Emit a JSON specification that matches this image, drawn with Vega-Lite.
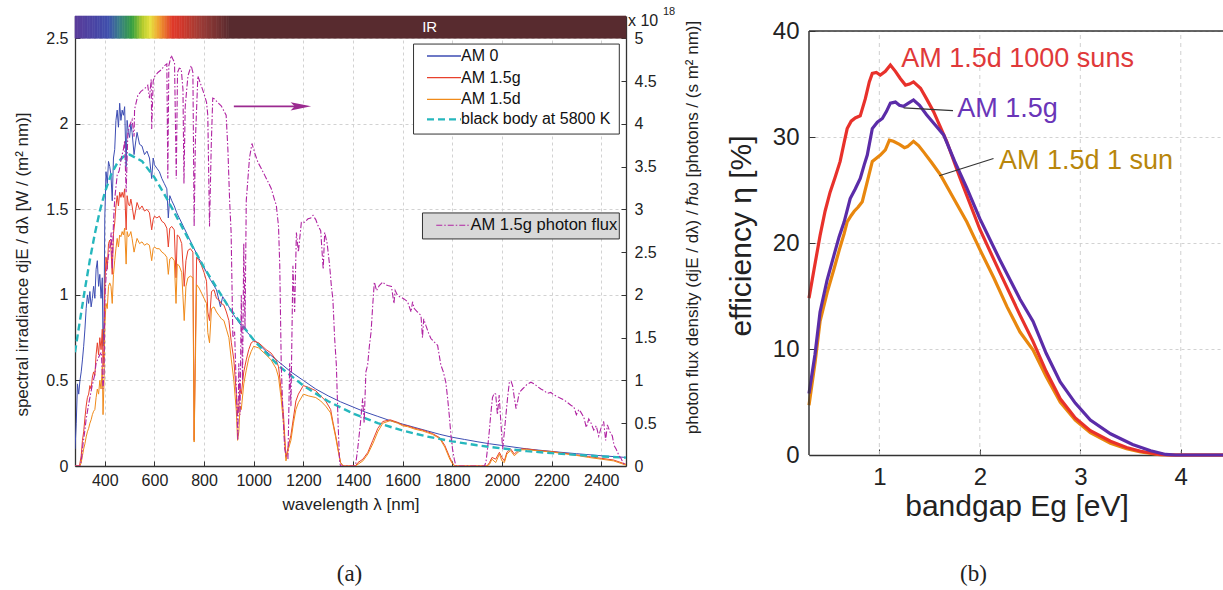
{
"$schema":"https://vega.github.io/schema/vega-lite/v6.json",
"background":"white",
"padding":{"left":13,"top":5,"right":0,"bottom":0},
"spacing":25,
"config":{"font":"Liberation Sans","view":{"stroke":null},
"axis":{"labelFont":"Liberation Sans","titleFont":"Liberation Sans","labelColor":"#222","titleColor":"#222","titleFontWeight":"normal","domainColor":"#333","domainWidth":1.3,"gridColor":"#d2d2d2","gridDash":[3,3],"ticks":true,"tickColor":"#333","tickWidth":1},
"legend":{"labelFont":"Liberation Sans"}},
"datasets":{
"one":[{}],
"strip":[{"wl":280,"wl2":290},{"wl":290,"wl2":300},{"wl":300,"wl2":310},{"wl":310,"wl2":320},{"wl":320,"wl2":330},{"wl":330,"wl2":340},{"wl":340,"wl2":350},{"wl":350,"wl2":360},{"wl":360,"wl2":370},{"wl":370,"wl2":380},{"wl":380,"wl2":390},{"wl":390,"wl2":400},{"wl":400,"wl2":410},{"wl":410,"wl2":420},{"wl":420,"wl2":430},{"wl":430,"wl2":440},{"wl":440,"wl2":450},{"wl":450,"wl2":460},{"wl":460,"wl2":470},{"wl":470,"wl2":480},{"wl":480,"wl2":490},{"wl":490,"wl2":500},{"wl":500,"wl2":510},{"wl":510,"wl2":520},{"wl":520,"wl2":530},{"wl":530,"wl2":540},{"wl":540,"wl2":550},{"wl":550,"wl2":560},{"wl":560,"wl2":570},{"wl":570,"wl2":580},{"wl":580,"wl2":590},{"wl":590,"wl2":600},{"wl":600,"wl2":610},{"wl":610,"wl2":620},{"wl":620,"wl2":630},{"wl":630,"wl2":640},{"wl":640,"wl2":650},{"wl":650,"wl2":660},{"wl":660,"wl2":670},{"wl":670,"wl2":680},{"wl":680,"wl2":690},{"wl":690,"wl2":700},{"wl":700,"wl2":710},{"wl":710,"wl2":720},{"wl":720,"wl2":730},{"wl":730,"wl2":740},{"wl":740,"wl2":750},{"wl":750,"wl2":760},{"wl":760,"wl2":770},{"wl":770,"wl2":780},{"wl":780,"wl2":790},{"wl":790,"wl2":800},{"wl":800,"wl2":810},{"wl":810,"wl2":820},{"wl":820,"wl2":830},{"wl":830,"wl2":840},{"wl":840,"wl2":850},{"wl":850,"wl2":860},{"wl":860,"wl2":870},{"wl":870,"wl2":880},{"wl":880,"wl2":890},{"wl":890,"wl2":900},{"wl":900,"wl2":2500}],
"spec":[
{"s":"AM 0","wl":280,"v":0.1},{"s":"AM 0","wl":285,"v":0.25},{"s":"AM 0","wl":290,"v":0.48},{"s":"AM 0","wl":295,"v":0.42},{"s":"AM 0","wl":300,"v":0.5},{"s":"AM 0","wl":305,"v":0.55},{"s":"AM 0","wl":310,"v":0.62},{"s":"AM 0","wl":315,"v":0.7},{"s":"AM 0","wl":320,"v":0.8},{"s":"AM 0","wl":325,"v":0.92},{"s":"AM 0","wl":330,"v":1.0},{"s":"AM 0","wl":335,"v":0.95},{"s":"AM 0","wl":340,"v":1.02},{"s":"AM 0","wl":345,"v":0.93},{"s":"AM 0","wl":350,"v":0.98},{"s":"AM 0","wl":355,"v":1.05},{"s":"AM 0","wl":360,"v":0.98},{"s":"AM 0","wl":365,"v":1.15},{"s":"AM 0","wl":370,"v":1.2},{"s":"AM 0","wl":375,"v":1.05},{"s":"AM 0","wl":380,"v":1.12},{"s":"AM 0","wl":385,"v":0.98},{"s":"AM 0","wl":390,"v":1.1},{"s":"AM 0","wl":393,"v":0.7},{"s":"AM 0","wl":397,"v":0.85},{"s":"AM 0","wl":400,"v":1.45},{"s":"AM 0","wl":405,"v":1.72},{"s":"AM 0","wl":410,"v":1.65},{"s":"AM 0","wl":415,"v":1.78},{"s":"AM 0","wl":420,"v":1.75},{"s":"AM 0","wl":425,"v":1.7},{"s":"AM 0","wl":430,"v":1.55},{"s":"AM 0","wl":435,"v":1.8},{"s":"AM 0","wl":440,"v":1.85},{"s":"AM 0","wl":445,"v":2.02},{"s":"AM 0","wl":450,"v":2.08},{"s":"AM 0","wl":455,"v":1.98},{"s":"AM 0","wl":460,"v":2.12},{"s":"AM 0","wl":465,"v":2.02},{"s":"AM 0","wl":470,"v":2.08},{"s":"AM 0","wl":475,"v":2.05},{"s":"AM 0","wl":480,"v":2.1},{"s":"AM 0","wl":486,"v":1.75},{"s":"AM 0","wl":490,"v":2.02},{"s":"AM 0","wl":495,"v":1.95},{"s":"AM 0","wl":500,"v":1.92},{"s":"AM 0","wl":505,"v":2.0},{"s":"AM 0","wl":510,"v":1.95},{"s":"AM 0","wl":518,"v":1.82},{"s":"AM 0","wl":525,"v":1.9},{"s":"AM 0","wl":530,"v":1.95},{"s":"AM 0","wl":540,"v":1.88},{"s":"AM 0","wl":550,"v":1.87},{"s":"AM 0","wl":560,"v":1.82},{"s":"AM 0","wl":570,"v":1.84},{"s":"AM 0","wl":580,"v":1.8},{"s":"AM 0","wl":589,"v":1.68},{"s":"AM 0","wl":595,"v":1.8},{"s":"AM 0","wl":600,"v":1.76},{"s":"AM 0","wl":610,"v":1.74},{"s":"AM 0","wl":620,"v":1.72},{"s":"AM 0","wl":630,"v":1.68},{"s":"AM 0","wl":640,"v":1.65},{"s":"AM 0","wl":650,"v":1.62},{"s":"AM 0","wl":656,"v":1.45},{"s":"AM 0","wl":662,"v":1.58},{"s":"AM 0","wl":670,"v":1.55},{"s":"AM 0","wl":680,"v":1.52},{"s":"AM 0","wl":690,"v":1.48},{"s":"AM 0","wl":700,"v":1.45},{"s":"AM 0","wl":710,"v":1.42},{"s":"AM 0","wl":720,"v":1.39},{"s":"AM 0","wl":730,"v":1.36},{"s":"AM 0","wl":740,"v":1.33},{"s":"AM 0","wl":750,"v":1.3},{"s":"AM 0","wl":760,"v":1.27},{"s":"AM 0","wl":770,"v":1.24},{"s":"AM 0","wl":780,"v":1.21},{"s":"AM 0","wl":790,"v":1.19},{"s":"AM 0","wl":800,"v":1.16},{"s":"AM 0","wl":825,"v":1.09},{"s":"AM 0","wl":850,"v":1.03},{"s":"AM 0","wl":866,"v":0.93},{"s":"AM 0","wl":875,"v":0.99},{"s":"AM 0","wl":900,"v":0.93},{"s":"AM 0","wl":925,"v":0.87},{"s":"AM 0","wl":950,"v":0.82},{"s":"AM 0","wl":975,"v":0.78},{"s":"AM 0","wl":1000,"v":0.74},{"s":"AM 0","wl":1050,"v":0.67},{"s":"AM 0","wl":1100,"v":0.61},{"s":"AM 0","wl":1150,"v":0.55},{"s":"AM 0","wl":1200,"v":0.5},{"s":"AM 0","wl":1250,"v":0.45},{"s":"AM 0","wl":1300,"v":0.41},{"s":"AM 0","wl":1350,"v":0.375},{"s":"AM 0","wl":1400,"v":0.345},{"s":"AM 0","wl":1450,"v":0.315},{"s":"AM 0","wl":1500,"v":0.29},{"s":"AM 0","wl":1550,"v":0.265},{"s":"AM 0","wl":1600,"v":0.245},{"s":"AM 0","wl":1650,"v":0.225},{"s":"AM 0","wl":1700,"v":0.205},{"s":"AM 0","wl":1750,"v":0.185},{"s":"AM 0","wl":1800,"v":0.168},{"s":"AM 0","wl":1850,"v":0.155},{"s":"AM 0","wl":1900,"v":0.142},{"s":"AM 0","wl":1950,"v":0.13},{"s":"AM 0","wl":2000,"v":0.12},{"s":"AM 0","wl":2100,"v":0.1},{"s":"AM 0","wl":2200,"v":0.085},{"s":"AM 0","wl":2300,"v":0.072},{"s":"AM 0","wl":2400,"v":0.06},{"s":"AM 0","wl":2500,"v":0.05},
{"s":"AM 1.5g","wl":280,"v":0},{"s":"AM 1.5g","wl":298,"v":0},{"s":"AM 1.5g","wl":305,"v":0.06},{"s":"AM 1.5g","wl":310,"v":0.15},{"s":"AM 1.5g","wl":315,"v":0.2},{"s":"AM 1.5g","wl":320,"v":0.28},{"s":"AM 1.5g","wl":325,"v":0.35},{"s":"AM 1.5g","wl":330,"v":0.4},{"s":"AM 1.5g","wl":335,"v":0.42},{"s":"AM 1.5g","wl":340,"v":0.47},{"s":"AM 1.5g","wl":345,"v":0.45},{"s":"AM 1.5g","wl":350,"v":0.52},{"s":"AM 1.5g","wl":355,"v":0.55},{"s":"AM 1.5g","wl":360,"v":0.53},{"s":"AM 1.5g","wl":365,"v":0.65},{"s":"AM 1.5g","wl":370,"v":0.72},{"s":"AM 1.5g","wl":375,"v":0.65},{"s":"AM 1.5g","wl":380,"v":0.75},{"s":"AM 1.5g","wl":385,"v":0.68},{"s":"AM 1.5g","wl":390,"v":0.8},{"s":"AM 1.5g","wl":393,"v":0.58},{"s":"AM 1.5g","wl":397,"v":0.7},{"s":"AM 1.5g","wl":400,"v":1.05},{"s":"AM 1.5g","wl":405,"v":1.22},{"s":"AM 1.5g","wl":410,"v":1.15},{"s":"AM 1.5g","wl":415,"v":1.3},{"s":"AM 1.5g","wl":420,"v":1.32},{"s":"AM 1.5g","wl":425,"v":1.27},{"s":"AM 1.5g","wl":430,"v":1.12},{"s":"AM 1.5g","wl":435,"v":1.36},{"s":"AM 1.5g","wl":440,"v":1.42},{"s":"AM 1.5g","wl":445,"v":1.52},{"s":"AM 1.5g","wl":450,"v":1.58},{"s":"AM 1.5g","wl":455,"v":1.52},{"s":"AM 1.5g","wl":460,"v":1.6},{"s":"AM 1.5g","wl":465,"v":1.57},{"s":"AM 1.5g","wl":470,"v":1.6},{"s":"AM 1.5g","wl":475,"v":1.57},{"s":"AM 1.5g","wl":480,"v":1.62},{"s":"AM 1.5g","wl":486,"v":1.38},{"s":"AM 1.5g","wl":490,"v":1.58},{"s":"AM 1.5g","wl":495,"v":1.53},{"s":"AM 1.5g","wl":500,"v":1.52},{"s":"AM 1.5g","wl":505,"v":1.56},{"s":"AM 1.5g","wl":510,"v":1.52},{"s":"AM 1.5g","wl":518,"v":1.44},{"s":"AM 1.5g","wl":525,"v":1.5},{"s":"AM 1.5g","wl":530,"v":1.54},{"s":"AM 1.5g","wl":540,"v":1.5},{"s":"AM 1.5g","wl":550,"v":1.52},{"s":"AM 1.5g","wl":560,"v":1.49},{"s":"AM 1.5g","wl":570,"v":1.5},{"s":"AM 1.5g","wl":580,"v":1.48},{"s":"AM 1.5g","wl":589,"v":1.38},{"s":"AM 1.5g","wl":595,"v":1.44},{"s":"AM 1.5g","wl":600,"v":1.46},{"s":"AM 1.5g","wl":610,"v":1.45},{"s":"AM 1.5g","wl":620,"v":1.46},{"s":"AM 1.5g","wl":630,"v":1.43},{"s":"AM 1.5g","wl":640,"v":1.42},{"s":"AM 1.5g","wl":650,"v":1.39},{"s":"AM 1.5g","wl":656,"v":1.28},{"s":"AM 1.5g","wl":662,"v":1.39},{"s":"AM 1.5g","wl":670,"v":1.4},{"s":"AM 1.5g","wl":680,"v":1.38},{"s":"AM 1.5g","wl":687,"v":1.1},{"s":"AM 1.5g","wl":692,"v":1.35},{"s":"AM 1.5g","wl":700,"v":1.34},{"s":"AM 1.5g","wl":710,"v":1.3},{"s":"AM 1.5g","wl":720,"v":1.05},{"s":"AM 1.5g","wl":727,"v":1.2},{"s":"AM 1.5g","wl":735,"v":1.26},{"s":"AM 1.5g","wl":745,"v":1.27},{"s":"AM 1.5g","wl":755,"v":1.25},{"s":"AM 1.5g","wl":760,"v":0.15},{"s":"AM 1.5g","wl":765,"v":0.7},{"s":"AM 1.5g","wl":770,"v":1.22},{"s":"AM 1.5g","wl":780,"v":1.2},{"s":"AM 1.5g","wl":790,"v":1.17},{"s":"AM 1.5g","wl":800,"v":1.13},{"s":"AM 1.5g","wl":810,"v":1.08},{"s":"AM 1.5g","wl":815,"v":0.9},{"s":"AM 1.5g","wl":822,"v":0.85},{"s":"AM 1.5g","wl":830,"v":1.02},{"s":"AM 1.5g","wl":840,"v":1.03},{"s":"AM 1.5g","wl":850,"v":0.98},{"s":"AM 1.5g","wl":860,"v":0.97},{"s":"AM 1.5g","wl":870,"v":0.95},{"s":"AM 1.5g","wl":880,"v":0.94},{"s":"AM 1.5g","wl":890,"v":0.9},{"s":"AM 1.5g","wl":900,"v":0.85},{"s":"AM 1.5g","wl":910,"v":0.72},{"s":"AM 1.5g","wl":920,"v":0.62},{"s":"AM 1.5g","wl":930,"v":0.42},{"s":"AM 1.5g","wl":935,"v":0.3},{"s":"AM 1.5g","wl":940,"v":0.35},{"s":"AM 1.5g","wl":945,"v":0.45},{"s":"AM 1.5g","wl":950,"v":0.42},{"s":"AM 1.5g","wl":960,"v":0.55},{"s":"AM 1.5g","wl":970,"v":0.62},{"s":"AM 1.5g","wl":980,"v":0.68},{"s":"AM 1.5g","wl":990,"v":0.72},{"s":"AM 1.5g","wl":1000,"v":0.73},{"s":"AM 1.5g","wl":1020,"v":0.72},{"s":"AM 1.5g","wl":1050,"v":0.68},{"s":"AM 1.5g","wl":1070,"v":0.66},{"s":"AM 1.5g","wl":1090,"v":0.62},{"s":"AM 1.5g","wl":1100,"v":0.58},{"s":"AM 1.5g","wl":1110,"v":0.45},{"s":"AM 1.5g","wl":1120,"v":0.3},{"s":"AM 1.5g","wl":1130,"v":0.05},{"s":"AM 1.5g","wl":1140,"v":0.12},{"s":"AM 1.5g","wl":1150,"v":0.18},{"s":"AM 1.5g","wl":1160,"v":0.28},{"s":"AM 1.5g","wl":1170,"v":0.38},{"s":"AM 1.5g","wl":1180,"v":0.42},{"s":"AM 1.5g","wl":1200,"v":0.47},{"s":"AM 1.5g","wl":1220,"v":0.46},{"s":"AM 1.5g","wl":1250,"v":0.44},{"s":"AM 1.5g","wl":1270,"v":0.41},{"s":"AM 1.5g","wl":1290,"v":0.38},{"s":"AM 1.5g","wl":1310,"v":0.33},{"s":"AM 1.5g","wl":1320,"v":0.25},{"s":"AM 1.5g","wl":1330,"v":0.18},{"s":"AM 1.5g","wl":1340,"v":0.1},{"s":"AM 1.5g","wl":1350,"v":0.02},{"s":"AM 1.5g","wl":1360,"v":0},{"s":"AM 1.5g","wl":1410,"v":0},{"s":"AM 1.5g","wl":1420,"v":0.02},{"s":"AM 1.5g","wl":1440,"v":0.04},{"s":"AM 1.5g","wl":1460,"v":0.08},{"s":"AM 1.5g","wl":1480,"v":0.15},{"s":"AM 1.5g","wl":1500,"v":0.22},{"s":"AM 1.5g","wl":1520,"v":0.26},{"s":"AM 1.5g","wl":1550,"v":0.27},{"s":"AM 1.5g","wl":1580,"v":0.255},{"s":"AM 1.5g","wl":1600,"v":0.24},{"s":"AM 1.5g","wl":1620,"v":0.235},{"s":"AM 1.5g","wl":1650,"v":0.22},{"s":"AM 1.5g","wl":1680,"v":0.21},{"s":"AM 1.5g","wl":1700,"v":0.2},{"s":"AM 1.5g","wl":1720,"v":0.19},{"s":"AM 1.5g","wl":1750,"v":0.165},{"s":"AM 1.5g","wl":1770,"v":0.12},{"s":"AM 1.5g","wl":1790,"v":0.05},{"s":"AM 1.5g","wl":1800,"v":0.02},{"s":"AM 1.5g","wl":1810,"v":0},{"s":"AM 1.5g","wl":1940,"v":0},{"s":"AM 1.5g","wl":1950,"v":0.02},{"s":"AM 1.5g","wl":1960,"v":0.05},{"s":"AM 1.5g","wl":1975,"v":0.04},{"s":"AM 1.5g","wl":1990,"v":0.08},{"s":"AM 1.5g","wl":2000,"v":0.05},{"s":"AM 1.5g","wl":2010,"v":0.03},{"s":"AM 1.5g","wl":2020,"v":0.08},{"s":"AM 1.5g","wl":2035,"v":0.1},{"s":"AM 1.5g","wl":2050,"v":0.07},{"s":"AM 1.5g","wl":2065,"v":0.09},{"s":"AM 1.5g","wl":2080,"v":0.1},{"s":"AM 1.5g","wl":2100,"v":0.1},{"s":"AM 1.5g","wl":2150,"v":0.09},{"s":"AM 1.5g","wl":2200,"v":0.085},{"s":"AM 1.5g","wl":2250,"v":0.075},{"s":"AM 1.5g","wl":2300,"v":0.065},{"s":"AM 1.5g","wl":2350,"v":0.055},{"s":"AM 1.5g","wl":2400,"v":0.045},{"s":"AM 1.5g","wl":2450,"v":0.035},{"s":"AM 1.5g","wl":2480,"v":0.02},{"s":"AM 1.5g","wl":2500,"v":0.01},
{"s":"AM 1.5d","wl":280,"v":0},{"s":"AM 1.5d","wl":300,"v":0},{"s":"AM 1.5d","wl":305,"v":0.02},{"s":"AM 1.5d","wl":310,"v":0.06},{"s":"AM 1.5d","wl":315,"v":0.1},{"s":"AM 1.5d","wl":320,"v":0.13},{"s":"AM 1.5d","wl":325,"v":0.17},{"s":"AM 1.5d","wl":330,"v":0.2},{"s":"AM 1.5d","wl":335,"v":0.22},{"s":"AM 1.5d","wl":340,"v":0.25},{"s":"AM 1.5d","wl":345,"v":0.27},{"s":"AM 1.5d","wl":350,"v":0.3},{"s":"AM 1.5d","wl":355,"v":0.32},{"s":"AM 1.5d","wl":360,"v":0.33},{"s":"AM 1.5d","wl":365,"v":0.4},{"s":"AM 1.5d","wl":370,"v":0.45},{"s":"AM 1.5d","wl":375,"v":0.42},{"s":"AM 1.5d","wl":380,"v":0.5},{"s":"AM 1.5d","wl":385,"v":0.45},{"s":"AM 1.5d","wl":390,"v":0.58},{"s":"AM 1.5d","wl":393,"v":0.3},{"s":"AM 1.5d","wl":397,"v":0.5},{"s":"AM 1.5d","wl":400,"v":0.82},{"s":"AM 1.5d","wl":405,"v":0.95},{"s":"AM 1.5d","wl":410,"v":0.92},{"s":"AM 1.5d","wl":415,"v":1.05},{"s":"AM 1.5d","wl":420,"v":1.07},{"s":"AM 1.5d","wl":425,"v":1.05},{"s":"AM 1.5d","wl":430,"v":0.95},{"s":"AM 1.5d","wl":435,"v":1.12},{"s":"AM 1.5d","wl":440,"v":1.2},{"s":"AM 1.5d","wl":445,"v":1.27},{"s":"AM 1.5d","wl":450,"v":1.33},{"s":"AM 1.5d","wl":455,"v":1.28},{"s":"AM 1.5d","wl":460,"v":1.35},{"s":"AM 1.5d","wl":465,"v":1.34},{"s":"AM 1.5d","wl":470,"v":1.37},{"s":"AM 1.5d","wl":475,"v":1.35},{"s":"AM 1.5d","wl":480,"v":1.39},{"s":"AM 1.5d","wl":486,"v":1.18},{"s":"AM 1.5d","wl":490,"v":1.37},{"s":"AM 1.5d","wl":495,"v":1.34},{"s":"AM 1.5d","wl":500,"v":1.35},{"s":"AM 1.5d","wl":505,"v":1.37},{"s":"AM 1.5d","wl":510,"v":1.33},{"s":"AM 1.5d","wl":518,"v":1.25},{"s":"AM 1.5d","wl":525,"v":1.3},{"s":"AM 1.5d","wl":530,"v":1.33},{"s":"AM 1.5d","wl":540,"v":1.3},{"s":"AM 1.5d","wl":550,"v":1.31},{"s":"AM 1.5d","wl":560,"v":1.29},{"s":"AM 1.5d","wl":570,"v":1.3},{"s":"AM 1.5d","wl":580,"v":1.29},{"s":"AM 1.5d","wl":589,"v":1.2},{"s":"AM 1.5d","wl":595,"v":1.27},{"s":"AM 1.5d","wl":600,"v":1.28},{"s":"AM 1.5d","wl":610,"v":1.27},{"s":"AM 1.5d","wl":620,"v":1.27},{"s":"AM 1.5d","wl":630,"v":1.25},{"s":"AM 1.5d","wl":640,"v":1.24},{"s":"AM 1.5d","wl":650,"v":1.22},{"s":"AM 1.5d","wl":656,"v":1.12},{"s":"AM 1.5d","wl":662,"v":1.21},{"s":"AM 1.5d","wl":670,"v":1.22},{"s":"AM 1.5d","wl":680,"v":1.2},{"s":"AM 1.5d","wl":687,"v":0.95},{"s":"AM 1.5d","wl":692,"v":1.18},{"s":"AM 1.5d","wl":700,"v":1.17},{"s":"AM 1.5d","wl":710,"v":1.13},{"s":"AM 1.5d","wl":720,"v":0.85},{"s":"AM 1.5d","wl":727,"v":1.05},{"s":"AM 1.5d","wl":735,"v":1.1},{"s":"AM 1.5d","wl":745,"v":1.11},{"s":"AM 1.5d","wl":755,"v":1.1},{"s":"AM 1.5d","wl":760,"v":0.14},{"s":"AM 1.5d","wl":765,"v":0.6},{"s":"AM 1.5d","wl":770,"v":1.06},{"s":"AM 1.5d","wl":780,"v":1.04},{"s":"AM 1.5d","wl":790,"v":1.01},{"s":"AM 1.5d","wl":800,"v":0.98},{"s":"AM 1.5d","wl":810,"v":0.95},{"s":"AM 1.5d","wl":815,"v":0.78},{"s":"AM 1.5d","wl":822,"v":0.72},{"s":"AM 1.5d","wl":830,"v":0.92},{"s":"AM 1.5d","wl":840,"v":0.93},{"s":"AM 1.5d","wl":850,"v":0.9},{"s":"AM 1.5d","wl":860,"v":0.88},{"s":"AM 1.5d","wl":870,"v":0.86},{"s":"AM 1.5d","wl":880,"v":0.85},{"s":"AM 1.5d","wl":890,"v":0.8},{"s":"AM 1.5d","wl":900,"v":0.75},{"s":"AM 1.5d","wl":910,"v":0.62},{"s":"AM 1.5d","wl":920,"v":0.5},{"s":"AM 1.5d","wl":930,"v":0.32},{"s":"AM 1.5d","wl":935,"v":0.15},{"s":"AM 1.5d","wl":940,"v":0.2},{"s":"AM 1.5d","wl":945,"v":0.35},{"s":"AM 1.5d","wl":950,"v":0.33},{"s":"AM 1.5d","wl":960,"v":0.48},{"s":"AM 1.5d","wl":970,"v":0.56},{"s":"AM 1.5d","wl":980,"v":0.63},{"s":"AM 1.5d","wl":990,"v":0.67},{"s":"AM 1.5d","wl":1000,"v":0.7},{"s":"AM 1.5d","wl":1020,"v":0.69},{"s":"AM 1.5d","wl":1050,"v":0.65},{"s":"AM 1.5d","wl":1070,"v":0.62},{"s":"AM 1.5d","wl":1090,"v":0.57},{"s":"AM 1.5d","wl":1100,"v":0.52},{"s":"AM 1.5d","wl":1110,"v":0.4},{"s":"AM 1.5d","wl":1120,"v":0.25},{"s":"AM 1.5d","wl":1130,"v":0.03},{"s":"AM 1.5d","wl":1140,"v":0.1},{"s":"AM 1.5d","wl":1150,"v":0.15},{"s":"AM 1.5d","wl":1160,"v":0.25},{"s":"AM 1.5d","wl":1170,"v":0.33},{"s":"AM 1.5d","wl":1180,"v":0.37},{"s":"AM 1.5d","wl":1200,"v":0.42},{"s":"AM 1.5d","wl":1220,"v":0.41},{"s":"AM 1.5d","wl":1250,"v":0.4},{"s":"AM 1.5d","wl":1270,"v":0.38},{"s":"AM 1.5d","wl":1290,"v":0.35},{"s":"AM 1.5d","wl":1310,"v":0.31},{"s":"AM 1.5d","wl":1320,"v":0.24},{"s":"AM 1.5d","wl":1330,"v":0.17},{"s":"AM 1.5d","wl":1340,"v":0.09},{"s":"AM 1.5d","wl":1350,"v":0.02},{"s":"AM 1.5d","wl":1360,"v":0},{"s":"AM 1.5d","wl":1410,"v":0},{"s":"AM 1.5d","wl":1420,"v":0.01},{"s":"AM 1.5d","wl":1440,"v":0.03},{"s":"AM 1.5d","wl":1460,"v":0.07},{"s":"AM 1.5d","wl":1480,"v":0.13},{"s":"AM 1.5d","wl":1500,"v":0.2},{"s":"AM 1.5d","wl":1520,"v":0.25},{"s":"AM 1.5d","wl":1550,"v":0.265},{"s":"AM 1.5d","wl":1580,"v":0.25},{"s":"AM 1.5d","wl":1600,"v":0.235},{"s":"AM 1.5d","wl":1620,"v":0.23},{"s":"AM 1.5d","wl":1650,"v":0.215},{"s":"AM 1.5d","wl":1680,"v":0.205},{"s":"AM 1.5d","wl":1700,"v":0.195},{"s":"AM 1.5d","wl":1720,"v":0.185},{"s":"AM 1.5d","wl":1750,"v":0.16},{"s":"AM 1.5d","wl":1770,"v":0.11},{"s":"AM 1.5d","wl":1790,"v":0.04},{"s":"AM 1.5d","wl":1800,"v":0.015},{"s":"AM 1.5d","wl":1810,"v":0},{"s":"AM 1.5d","wl":1940,"v":0},{"s":"AM 1.5d","wl":1950,"v":0.01},{"s":"AM 1.5d","wl":1960,"v":0.04},{"s":"AM 1.5d","wl":1975,"v":0.02},{"s":"AM 1.5d","wl":1990,"v":0.07},{"s":"AM 1.5d","wl":2000,"v":0.03},{"s":"AM 1.5d","wl":2010,"v":0.02},{"s":"AM 1.5d","wl":2020,"v":0.07},{"s":"AM 1.5d","wl":2035,"v":0.09},{"s":"AM 1.5d","wl":2050,"v":0.06},{"s":"AM 1.5d","wl":2065,"v":0.08},{"s":"AM 1.5d","wl":2080,"v":0.095},{"s":"AM 1.5d","wl":2100,"v":0.095},{"s":"AM 1.5d","wl":2150,"v":0.088},{"s":"AM 1.5d","wl":2200,"v":0.082},{"s":"AM 1.5d","wl":2250,"v":0.072},{"s":"AM 1.5d","wl":2300,"v":0.062},{"s":"AM 1.5d","wl":2350,"v":0.05},{"s":"AM 1.5d","wl":2400,"v":0.04},{"s":"AM 1.5d","wl":2450,"v":0.03},{"s":"AM 1.5d","wl":2480,"v":0.015},{"s":"AM 1.5d","wl":2500,"v":0.005},
{"s":"black body at 5800 K","wl":280,"v":0.665},{"s":"black body at 5800 K","wl":300,"v":0.851},{"s":"black body at 5800 K","wl":320,"v":1.034},{"s":"black body at 5800 K","wl":340,"v":1.205},{"s":"black body at 5800 K","wl":360,"v":1.358},{"s":"black body at 5800 K","wl":380,"v":1.49},{"s":"black body at 5800 K","wl":400,"v":1.598},{"s":"black body at 5800 K","wl":425,"v":1.702},{"s":"black body at 5800 K","wl":450,"v":1.77},{"s":"black body at 5800 K","wl":475,"v":1.808},{"s":"black body at 5800 K","wl":500,"v":1.82},{"s":"black body at 5800 K","wl":550,"v":1.782},{"s":"black body at 5800 K","wl":600,"v":1.687},{"s":"black body at 5800 K","wl":650,"v":1.563},{"s":"black body at 5800 K","wl":700,"v":1.428},{"s":"black body at 5800 K","wl":750,"v":1.291},{"s":"black body at 5800 K","wl":800,"v":1.16},{"s":"black body at 5800 K","wl":900,"v":0.927},{"s":"black body at 5800 K","wl":1000,"v":0.736},{"s":"black body at 5800 K","wl":1100,"v":0.586},{"s":"black body at 5800 K","wl":1200,"v":0.47},{"s":"black body at 5800 K","wl":1300,"v":0.378},{"s":"black body at 5800 K","wl":1400,"v":0.307},{"s":"black body at 5800 K","wl":1500,"v":0.251},{"s":"black body at 5800 K","wl":1600,"v":0.207},{"s":"black body at 5800 K","wl":1700,"v":0.172},{"s":"black body at 5800 K","wl":1800,"v":0.144},{"s":"black body at 5800 K","wl":1900,"v":0.121},{"s":"black body at 5800 K","wl":2000,"v":0.103},{"s":"black body at 5800 K","wl":2100,"v":0.087},{"s":"black body at 5800 K","wl":2200,"v":0.075},{"s":"black body at 5800 K","wl":2300,"v":0.065},{"s":"black body at 5800 K","wl":2400,"v":0.056},{"s":"black body at 5800 K","wl":2500,"v":0.049}],
"flux":[{"wl":280,"p":0},{"wl":300,"p":0},{"wl":305,"p":0.05},{"wl":312,"p":0.25},{"wl":319,"p":0.4},{"wl":325,"p":0.55},{"wl":332,"p":0.67},{"wl":340,"p":0.8},{"wl":350,"p":0.95},{"wl":359,"p":1.06},{"wl":365,"p":1.2},{"wl":372,"p":1.25},{"wl":380,"p":1.3},{"wl":386,"p":1.33},{"wl":393,"p":0.9},{"wl":397,"p":1.1},{"wl":400,"p":1.95},{"wl":406,"p":2.25},{"wl":413,"p":2.42},{"wl":420,"p":2.55},{"wl":426,"p":2.73},{"wl":430,"p":2.3},{"wl":435,"p":2.85},{"wl":440,"p":3.12},{"wl":450,"p":3.4},{"wl":458,"p":3.45},{"wl":466,"p":3.59},{"wl":475,"p":3.7},{"wl":480,"p":3.8},{"wl":486,"p":3.2},{"wl":493,"p":3.9},{"wl":500,"p":3.98},{"wl":510,"p":4.05},{"wl":518,"p":3.85},{"wl":520,"p":4.17},{"wl":533,"p":4.33},{"wl":546,"p":4.38},{"wl":560,"p":4.41},{"wl":573,"p":4.45},{"wl":580,"p":4.3},{"wl":587,"p":4.52},{"wl":589,"p":3.94},{"wl":595,"p":4.5},{"wl":600,"p":4.55},{"wl":614,"p":4.6},{"wl":627,"p":4.63},{"wl":641,"p":4.68},{"wl":650,"p":4.7},{"wl":654,"p":3.36},{"wl":658,"p":4.68},{"wl":668,"p":4.8},{"wl":675,"p":4.75},{"wl":681,"p":4.72},{"wl":688,"p":3.36},{"wl":693,"p":4.6},{"wl":700,"p":4.65},{"wl":708,"p":4.64},{"wl":715,"p":4.4},{"wl":719,"p":3.3},{"wl":724,"p":4.2},{"wl":735,"p":4.56},{"wl":748,"p":4.68},{"wl":755,"p":4.6},{"wl":760,"p":2.8},{"wl":765,"p":3.8},{"wl":775,"p":4.56},{"wl":788,"p":4.45},{"wl":800,"p":4.35},{"wl":810,"p":4.25},{"wl":815,"p":4.1},{"wl":822,"p":2.8},{"wl":829,"p":3.75},{"wl":835,"p":4.3},{"wl":842,"p":4.29},{"wl":855,"p":4.25},{"wl":869,"p":4.21},{"wl":880,"p":4.15},{"wl":889,"p":4.1},{"wl":896,"p":3.7},{"wl":903,"p":3.1},{"wl":909,"p":2.73},{"wl":916,"p":1.5},{"wl":923,"p":1.57},{"wl":930,"p":0.9},{"wl":936,"p":0.3},{"wl":940,"p":1.2},{"wl":945,"p":0.6},{"wl":950,"p":2.0},{"wl":955,"p":1.0},{"wl":960,"p":2.6},{"wl":965,"p":1.6},{"wl":970,"p":3.1},{"wl":983,"p":3.6},{"wl":993,"p":3.77},{"wl":1005,"p":3.65},{"wl":1017,"p":3.55},{"wl":1030,"p":3.48},{"wl":1044,"p":3.4},{"wl":1058,"p":3.32},{"wl":1071,"p":3.24},{"wl":1085,"p":3.1},{"wl":1091,"p":3.05},{"wl":1100,"p":2.8},{"wl":1105,"p":2.34},{"wl":1111,"p":1.18},{"wl":1118,"p":0.6},{"wl":1125,"p":0.2},{"wl":1132,"p":0.1},{"wl":1138,"p":0.09},{"wl":1145,"p":1.2},{"wl":1150,"p":0.7},{"wl":1158,"p":2.34},{"wl":1165,"p":1.8},{"wl":1172,"p":2.73},{"wl":1180,"p":2.5},{"wl":1192,"p":2.85},{"wl":1205,"p":2.85},{"wl":1219,"p":2.89},{"wl":1230,"p":2.9},{"wl":1239,"p":2.93},{"wl":1250,"p":2.88},{"wl":1259,"p":2.81},{"wl":1270,"p":2.75},{"wl":1280,"p":2.3},{"wl":1286,"p":2.73},{"wl":1296,"p":2.6},{"wl":1306,"p":2.34},{"wl":1313,"p":2.1},{"wl":1319,"p":1.95},{"wl":1326,"p":1.5},{"wl":1333,"p":1.18},{"wl":1340,"p":0.5},{"wl":1346,"p":0.05},{"wl":1350,"p":0},{"wl":1410,"p":0},{"wl":1419,"p":0.2},{"wl":1430,"p":0.5},{"wl":1439,"p":0.79},{"wl":1445,"p":0.5},{"wl":1452,"p":1.1},{"wl":1459,"p":1.18},{"wl":1466,"p":1.4},{"wl":1473,"p":1.57},{"wl":1480,"p":1.9},{"wl":1486,"p":2.15},{"wl":1495,"p":2.05},{"wl":1506,"p":2.11},{"wl":1520,"p":2.15},{"wl":1530,"p":2.12},{"wl":1540,"p":2.11},{"wl":1555,"p":2.1},{"wl":1565,"p":1.9},{"wl":1570,"p":2.05},{"wl":1580,"p":1.99},{"wl":1595,"p":1.97},{"wl":1607,"p":1.95},{"wl":1620,"p":1.92},{"wl":1634,"p":1.8},{"wl":1640,"p":1.92},{"wl":1647,"p":1.84},{"wl":1660,"p":1.8},{"wl":1674,"p":1.76},{"wl":1680,"p":1.5},{"wl":1685,"p":1.72},{"wl":1694,"p":1.64},{"wl":1705,"p":1.55},{"wl":1714,"p":1.49},{"wl":1727,"p":1.45},{"wl":1741,"p":1.41},{"wl":1754,"p":1.18},{"wl":1764,"p":1.1},{"wl":1774,"p":0.98},{"wl":1781,"p":0.8},{"wl":1788,"p":0.59},{"wl":1795,"p":0.35},{"wl":1801,"p":0.2},{"wl":1808,"p":0.08},{"wl":1815,"p":0},{"wl":1930,"p":0},{"wl":1936,"p":0.05},{"wl":1942,"p":0.2},{"wl":1949,"p":0.4},{"wl":1955,"p":0.6},{"wl":1962,"p":0.8},{"wl":1969,"p":0.85},{"wl":1975,"p":0.84},{"wl":1982,"p":0.6},{"wl":1989,"p":0.83},{"wl":1996,"p":0.5},{"wl":2003,"p":0.2},{"wl":2010,"p":0.4},{"wl":2016,"p":0.59},{"wl":2023,"p":0.8},{"wl":2030,"p":0.98},{"wl":2037,"p":0.99},{"wl":2043,"p":0.94},{"wl":2050,"p":0.8},{"wl":2057,"p":0.67},{"wl":2063,"p":0.75},{"wl":2070,"p":0.86},{"wl":2083,"p":0.9},{"wl":2100,"p":0.95},{"wl":2117,"p":0.98},{"wl":2130,"p":0.96},{"wl":2143,"p":0.93},{"wl":2157,"p":0.9},{"wl":2170,"p":0.88},{"wl":2183,"p":0.85},{"wl":2197,"p":0.86},{"wl":2210,"p":0.83},{"wl":2224,"p":0.81},{"wl":2238,"p":0.79},{"wl":2251,"p":0.77},{"wl":2265,"p":0.74},{"wl":2278,"p":0.71},{"wl":2290,"p":0.69},{"wl":2300,"p":0.6},{"wl":2310,"p":0.66},{"wl":2318,"p":0.63},{"wl":2330,"p":0.57},{"wl":2340,"p":0.45},{"wl":2350,"p":0.55},{"wl":2358,"p":0.51},{"wl":2370,"p":0.42},{"wl":2380,"p":0.47},{"wl":2390,"p":0.35},{"wl":2399,"p":0.44},{"wl":2410,"p":0.52},{"wl":2418,"p":0.3},{"wl":2425,"p":0.48},{"wl":2435,"p":0.4},{"wl":2445,"p":0.35},{"wl":2452,"p":0.24},{"wl":2460,"p":0.2},{"wl":2472,"p":0.12},{"wl":2480,"p":0.09},{"wl":2486,"p":0.05},{"wl":2495,"p":0.01}],
"gx":[{"g":1},{"g":2},{"g":3},{"g":4}],
"eff":[
{"s":"AM 1.5d 1 sun","E":0.3,"v":4.7},{"s":"AM 1.5d 1 sun","E":0.36,"v":8.7},{"s":"AM 1.5d 1 sun","E":0.41,"v":12.6},{"s":"AM 1.5d 1 sun","E":0.48,"v":15.3},{"s":"AM 1.5d 1 sun","E":0.55,"v":17.6},{"s":"AM 1.5d 1 sun","E":0.6,"v":19.3},{"s":"AM 1.5d 1 sun","E":0.65,"v":20.9},{"s":"AM 1.5d 1 sun","E":0.68,"v":22.0},{"s":"AM 1.5d 1 sun","E":0.72,"v":22.6},{"s":"AM 1.5d 1 sun","E":0.75,"v":23.0},{"s":"AM 1.5d 1 sun","E":0.79,"v":23.4},{"s":"AM 1.5d 1 sun","E":0.83,"v":23.9},{"s":"AM 1.5d 1 sun","E":0.88,"v":25.8},{"s":"AM 1.5d 1 sun","E":0.93,"v":27.7},{"s":"AM 1.5d 1 sun","E":0.97,"v":28.0},{"s":"AM 1.5d 1 sun","E":1.01,"v":28.3},{"s":"AM 1.5d 1 sun","E":1.06,"v":28.8},{"s":"AM 1.5d 1 sun","E":1.1,"v":29.7},{"s":"AM 1.5d 1 sun","E":1.14,"v":29.6},{"s":"AM 1.5d 1 sun","E":1.2,"v":29.3},{"s":"AM 1.5d 1 sun","E":1.25,"v":29.0},{"s":"AM 1.5d 1 sun","E":1.28,"v":29.1},{"s":"AM 1.5d 1 sun","E":1.34,"v":29.6},{"s":"AM 1.5d 1 sun","E":1.39,"v":29.2},{"s":"AM 1.5d 1 sun","E":1.44,"v":28.6},{"s":"AM 1.5d 1 sun","E":1.52,"v":27.6},{"s":"AM 1.5d 1 sun","E":1.61,"v":26.4},{"s":"AM 1.5d 1 sun","E":1.74,"v":24.2},{"s":"AM 1.5d 1 sun","E":1.87,"v":22.0},{"s":"AM 1.5d 1 sun","E":2.0,"v":19.4},{"s":"AM 1.5d 1 sun","E":2.14,"v":16.7},{"s":"AM 1.5d 1 sun","E":2.27,"v":14.0},{"s":"AM 1.5d 1 sun","E":2.4,"v":11.6},{"s":"AM 1.5d 1 sun","E":2.53,"v":9.9},{"s":"AM 1.5d 1 sun","E":2.66,"v":7.4},{"s":"AM 1.5d 1 sun","E":2.8,"v":5.0},{"s":"AM 1.5d 1 sun","E":2.95,"v":3.3},{"s":"AM 1.5d 1 sun","E":3.1,"v":2.1},{"s":"AM 1.5d 1 sun","E":3.3,"v":1.1},{"s":"AM 1.5d 1 sun","E":3.46,"v":0.6},{"s":"AM 1.5d 1 sun","E":3.6,"v":0.3},{"s":"AM 1.5d 1 sun","E":3.79,"v":0.03},{"s":"AM 1.5d 1 sun","E":3.9,"v":0},{"s":"AM 1.5d 1 sun","E":4.43,"v":0},
{"s":"AM 1.5d 1000 suns","E":0.3,"v":14.8},{"s":"AM 1.5d 1000 suns","E":0.35,"v":17.5},{"s":"AM 1.5d 1000 suns","E":0.41,"v":20.7},{"s":"AM 1.5d 1000 suns","E":0.46,"v":23.0},{"s":"AM 1.5d 1000 suns","E":0.51,"v":24.8},{"s":"AM 1.5d 1000 suns","E":0.56,"v":26.2},{"s":"AM 1.5d 1000 suns","E":0.61,"v":27.7},{"s":"AM 1.5d 1000 suns","E":0.65,"v":29.5},{"s":"AM 1.5d 1000 suns","E":0.68,"v":30.8},{"s":"AM 1.5d 1000 suns","E":0.72,"v":31.5},{"s":"AM 1.5d 1000 suns","E":0.76,"v":31.8},{"s":"AM 1.5d 1000 suns","E":0.81,"v":32.0},{"s":"AM 1.5d 1000 suns","E":0.86,"v":33.6},{"s":"AM 1.5d 1000 suns","E":0.9,"v":35.2},{"s":"AM 1.5d 1000 suns","E":0.93,"v":36.0},{"s":"AM 1.5d 1000 suns","E":0.97,"v":36.1},{"s":"AM 1.5d 1000 suns","E":1.01,"v":35.85},{"s":"AM 1.5d 1000 suns","E":1.06,"v":36.2},{"s":"AM 1.5d 1000 suns","E":1.11,"v":36.8},{"s":"AM 1.5d 1000 suns","E":1.16,"v":36.2},{"s":"AM 1.5d 1000 suns","E":1.21,"v":35.5},{"s":"AM 1.5d 1000 suns","E":1.26,"v":34.9},{"s":"AM 1.5d 1000 suns","E":1.3,"v":35.0},{"s":"AM 1.5d 1000 suns","E":1.34,"v":35.2},{"s":"AM 1.5d 1000 suns","E":1.41,"v":34.6},{"s":"AM 1.5d 1000 suns","E":1.47,"v":33.6},{"s":"AM 1.5d 1000 suns","E":1.54,"v":32.4},{"s":"AM 1.5d 1000 suns","E":1.6,"v":31.1},{"s":"AM 1.5d 1000 suns","E":1.67,"v":29.6},{"s":"AM 1.5d 1000 suns","E":1.8,"v":26.2},{"s":"AM 1.5d 1000 suns","E":2.0,"v":21.3},{"s":"AM 1.5d 1000 suns","E":2.2,"v":17.2},{"s":"AM 1.5d 1000 suns","E":2.4,"v":13.2},{"s":"AM 1.5d 1000 suns","E":2.53,"v":10.7},{"s":"AM 1.5d 1000 suns","E":2.66,"v":7.9},{"s":"AM 1.5d 1000 suns","E":2.8,"v":5.3},{"s":"AM 1.5d 1000 suns","E":2.95,"v":3.5},{"s":"AM 1.5d 1000 suns","E":3.1,"v":2.3},{"s":"AM 1.5d 1000 suns","E":3.3,"v":1.3},{"s":"AM 1.5d 1000 suns","E":3.46,"v":0.7},{"s":"AM 1.5d 1000 suns","E":3.6,"v":0.35},{"s":"AM 1.5d 1000 suns","E":3.79,"v":0.05},{"s":"AM 1.5d 1000 suns","E":3.9,"v":0},{"s":"AM 1.5d 1000 suns","E":4.43,"v":0},
{"s":"AM 1.5g","E":0.3,"v":5.8},{"s":"AM 1.5g","E":0.36,"v":9.5},{"s":"AM 1.5g","E":0.41,"v":13.5},{"s":"AM 1.5g","E":0.48,"v":16.5},{"s":"AM 1.5g","E":0.55,"v":18.9},{"s":"AM 1.5g","E":0.6,"v":20.6},{"s":"AM 1.5g","E":0.65,"v":22.0},{"s":"AM 1.5g","E":0.71,"v":24.2},{"s":"AM 1.5g","E":0.76,"v":25.1},{"s":"AM 1.5g","E":0.81,"v":26.1},{"s":"AM 1.5g","E":0.85,"v":27.4},{"s":"AM 1.5g","E":0.88,"v":28.3},{"s":"AM 1.5g","E":0.93,"v":30.8},{"s":"AM 1.5g","E":0.98,"v":31.4},{"s":"AM 1.5g","E":1.03,"v":31.75},{"s":"AM 1.5g","E":1.07,"v":32.4},{"s":"AM 1.5g","E":1.11,"v":33.2},{"s":"AM 1.5g","E":1.16,"v":33.3},{"s":"AM 1.5g","E":1.2,"v":33.0},{"s":"AM 1.5g","E":1.24,"v":32.9},{"s":"AM 1.5g","E":1.29,"v":33.2},{"s":"AM 1.5g","E":1.34,"v":33.5},{"s":"AM 1.5g","E":1.4,"v":33.0},{"s":"AM 1.5g","E":1.47,"v":32.1},{"s":"AM 1.5g","E":1.55,"v":31.2},{"s":"AM 1.5g","E":1.64,"v":30.2},{"s":"AM 1.5g","E":1.75,"v":27.7},{"s":"AM 1.5g","E":1.87,"v":25.2},{"s":"AM 1.5g","E":2.0,"v":22.3},{"s":"AM 1.5g","E":2.2,"v":18.4},{"s":"AM 1.5g","E":2.4,"v":14.7},{"s":"AM 1.5g","E":2.53,"v":12.6},{"s":"AM 1.5g","E":2.66,"v":9.6},{"s":"AM 1.5g","E":2.8,"v":6.9},{"s":"AM 1.5g","E":2.95,"v":4.9},{"s":"AM 1.5g","E":3.1,"v":3.3},{"s":"AM 1.5g","E":3.3,"v":2.0},{"s":"AM 1.5g","E":3.52,"v":1.0},{"s":"AM 1.5g","E":3.7,"v":0.4},{"s":"AM 1.5g","E":3.85,"v":0.05},{"s":"AM 1.5g","E":3.95,"v":0},{"s":"AM 1.5g","E":4.43,"v":0}]
},
"hconcat":[
{
"width":551,"height":450,
"title":{"text":"(a)","orient":"bottom","font":"Liberation Serif","fontSize":23,"fontWeight":"normal","color":"#222","offset":51,"dx":-1},
"layer":[
{"layer":[
{"data":{"name":"strip"},"mark":{"type":"rect","strokeWidth":0.6},
"encoding":{"x":{"field":"wl","type":"quantitative"},"x2":{"field":"wl2"},"y":{"datum":2.5},"y2":{"datum":2.63},
"fill":{"field":"wl","type":"quantitative","legend":null,"scale":{"type":"linear","interpolate":"rgb","domain":[280,380,413,453,506,547,580,614,667,707,775,843,908],"range":["#5a3c9b","#4449a8","#3f52ad","#3a7d8a","#36a040","#b4cc2e","#e8e040","#f0a030","#e03a2a","#d0382c","#a03c36","#7a3434","#532a2e"]}},
"stroke":{"field":"wl","type":"quantitative","legend":null,"scale":{"type":"linear","interpolate":"rgb","domain":[280,380,413,453,506,547,580,614,667,707,775,843,908],"range":["#5a3c9b","#4449a8","#3f52ad","#3a7d8a","#36a040","#b4cc2e","#e8e040","#f0a030","#e03a2a","#d0382c","#a03c36","#7a3434","#532a2e"]}}}},
{"data":{"name":"spec"},"transform":[{"filter":"datum.s !== 'black body at 5800 K'"}],"mark":{"type":"line","clip":true,"strokeWidth":1},
"encoding":{
"x":{"field":"wl","type":"quantitative","scale":{"domain":[280,2500],"nice":false,"zero":false},"axis":{"values":[400,600,800,1000,1200,1400,1600,1800,2000,2200,2400],"format":"d","title":"wavelength λ [nm]","labelFontSize":16,"titleFontSize":17,"tickSize":-5,"labelPadding":11,"titlePadding":8,"grid":true}},
"y":{"field":"v","type":"quantitative","scale":{"domain":[0,2.63],"nice":false},"axis":{"values":[0,0.5,1,1.5,2,2.5],"format":"~g","title":"spectral irradiance djE / dλ [W / (m² nm)]","labelFontSize":16,"titleFontSize":17,"tickSize":-5,"labelPadding":12,"titlePadding":14,"titleY":248,"grid":true}},
"color":{"field":"s","type":"nominal","scale":{"domain":["AM 0","AM 1.5g","AM 1.5d"],"range":["#3d4db3","#e8402c","#f08a1a"]},
"legend":{"title":null,"orient":"none","legendX":346,"legendY":32,"padding":0,"labelFontSize":16,"labelColor":"#111","symbolType":"M-3.4,0L3.4,0","symbolSize":100,"symbolOffset":15,"symbolStrokeWidth":1.3,"rowPadding":5.7,"labelOffset":9}}}},
{"data":{"name":"spec"},"transform":[{"filter":"datum.s === 'black body at 5800 K'"}],"mark":{"type":"line","clip":true,"strokeWidth":2.4,"color":"#26b7bd"},
"encoding":{"x":{"field":"wl","type":"quantitative"},"y":{"field":"v","type":"quantitative"},
"strokeDash":{"field":"s","type":"nominal","scale":{"domain":["black body at 5800 K"],"range":[[7,4]]},
"legend":{"title":null,"orient":"none","legendX":346,"legendY":95.4,"padding":0,"labelFontSize":16,"labelColor":"#111","symbolType":"M-3.4,0L3.4,0","symbolSize":100,"symbolOffset":15,"symbolStrokeWidth":2.4,"symbolStrokeColor":"#26b7bd","labelOffset":9}}}},
{"data":{"name":"one"},"mark":{"type":"rect","fill":"white","stroke":"#333","strokeWidth":1},"encoding":{"x":{"datum":1644},"x2":{"datum":2473},"y":{"datum":2.466},"y2":{"datum":1.94}}},
{"data":{"name":"one"},"mark":{"type":"rect","fill":"#d9d9d9","stroke":"#333","strokeWidth":1},"encoding":{"x":{"datum":1680},"x2":{"datum":2473},"y":{"datum":1.479},"y2":{"datum":1.327}}},
{"data":{"name":"one"},"mark":{"type":"text","color":"white","fontSize":15,"baseline":"middle","align":"center"},"encoding":{"x":{"datum":1709},"y":{"datum":2.565},"text":{"value":"IR"}}},
{"data":{"name":"one"},"mark":{"type":"rule","color":"#9b2a90","strokeWidth":1.6},"encoding":{"x":{"datum":920},"x2":{"datum":1185},"y":{"datum":2.102}}},
{"data":{"name":"one"},"mark":{"type":"point","shape":"M-1,-0.4L1,0L-1,0.4L-0.6,0Z","filled":true,"opacity":1,"color":"#9b2a90","size":420},"encoding":{"x":{"datum":1190},"y":{"datum":2.102}}},
{"data":{"name":"one"},"mark":{"type":"text","color":"#222","fontSize":16,"baseline":"middle","align":"left","dx":2},"encoding":{"x":{"datum":2500},"y":{"datum":2.6},"text":{"value":"x 10"}}},
{"data":{"name":"one"},"mark":{"type":"text","color":"#222","fontSize":11,"baseline":"middle","align":"left","dx":37},"encoding":{"x":{"datum":2500},"y":{"datum":2.655},"text":{"value":"18"}}}
]},
{"data":{"name":"flux"},"mark":{"type":"line","strokeWidth":1.1,"strokeDash":[6,2,1.5,2],"clip":true},
"encoding":{
"x":{"field":"wl","type":"quantitative"},
"y":{"field":"p","type":"quantitative","scale":{"domain":[0,5.26],"nice":false},"axis":{"orient":"right","values":[0,0.5,1,1.5,2,2.5,3,3.5,4,4.5,5],"format":"~g","grid":false,"title":"photon flux density (djE / dλ) / ℏω [photons / (s m² nm)]","labelFontSize":16,"titleFontSize":17,"tickSize":-5,"labelPadding":13,"titlePadding":28,"titleAngle":-90,"titleBaseline":"top","titleY":211}},
"color":{"datum":"AM 1.5g photon flux","scale":{"range":["#b024a2"]},"legend":{"title":null,"orient":"none","legendX":355,"legendY":201,"padding":0,"labelFontSize":16.5,"labelColor":"#111","symbolType":"M-3.4,0L3.4,0","symbolSize":100,"symbolOffset":15,"symbolDash":[6,2,1.5,2],"symbolStrokeWidth":1.2,"labelOffset":9}}}}
],
"resolve":{"scale":{"y":"independent","color":"independent"}}
},
{
"width":415,"height":439,
"title":{"text":"(b)","orient":"bottom","font":"Liberation Serif","fontSize":23,"fontWeight":"normal","color":"#222","offset":42,"dx":-43},
"layer":[
{"data":{"name":"gx"},"mark":{"type":"rule","color":"#cfcfcf","strokeDash":[4,4],"strokeWidth":1},"encoding":{"x":{"field":"g","type":"quantitative"},"y":{"datum":0},"y2":{"datum":40}}},
{"data":{"name":"eff"},"mark":{"type":"line","strokeWidth":3.2},
"encoding":{
"x":{"field":"E","type":"quantitative","scale":{"domain":[0.3,4.43],"nice":false,"zero":false},"axis":{"values":[1,2,3,4],"format":"~g","title":"bandgap Eg [eV]","labelFontSize":24,"titleFontSize":30,"tickSize":-6,"labelPadding":16,"titlePadding":2,"grid":false,"domainWidth":1.5}},
"y":{"field":"v","type":"quantitative","scale":{"domain":[0,41.42],"nice":false},"axis":{"values":[0,10,20,30,40],"format":"~g","title":"efficiency η [%]","labelFontSize":24,"titleFontSize":30,"tickSize":-6,"labelPadding":16,"titlePadding":16,"domain":false,"grid":true}},
"color":{"field":"s","type":"nominal","legend":null,"scale":{"domain":["AM 1.5d 1 sun","AM 1.5d 1000 suns","AM 1.5g"],"range":["#e8870e","#e8312b","#5b2ca8"]}}}},
{"data":{"name":"one"},"mark":{"type":"rule","color":"#333","strokeWidth":1.5},"encoding":{"x":{"datum":0.3},"y":{"datum":0},"y2":{"datum":40}}},
{"data":{"name":"one"},"mark":{"type":"rule","color":"#333","strokeWidth":1.5},"encoding":{"x":{"datum":0.3},"x2":{"datum":4.43},"y":{"datum":40}}},
{"data":{"name":"one"},"mark":{"type":"rule","color":"#333","strokeWidth":1.2},"encoding":{"x":{"datum":1.242},"y":{"datum":32.76},"x2":{"datum":1.733},"y2":{"datum":32.5}}},
{"data":{"name":"one"},"mark":{"type":"rule","color":"#333","strokeWidth":1.2},"encoding":{"x":{"datum":1.596},"y":{"datum":26.35},"x2":{"datum":2.136},"y2":{"datum":27.98}}},
{"data":{"name":"one"},"mark":{"type":"text","color":"#e0393a","fontSize":27,"align":"left","baseline":"middle"},"encoding":{"x":{"datum":1.218},"y":{"datum":37.4},"text":{"value":"AM 1.5d 1000 suns"}}},
{"data":{"name":"one"},"mark":{"type":"text","color":"#6a35b8","fontSize":27,"align":"left","baseline":"middle"},"encoding":{"x":{"datum":1.775},"y":{"datum":32.6},"text":{"value":"AM 1.5g"}}},
{"data":{"name":"one"},"mark":{"type":"text","color":"#b8860b","fontSize":27,"align":"left","baseline":"middle"},"encoding":{"x":{"datum":2.19},"y":{"datum":27.7},"text":{"value":"AM 1.5d 1 sun"}}}
]
}
]
}
